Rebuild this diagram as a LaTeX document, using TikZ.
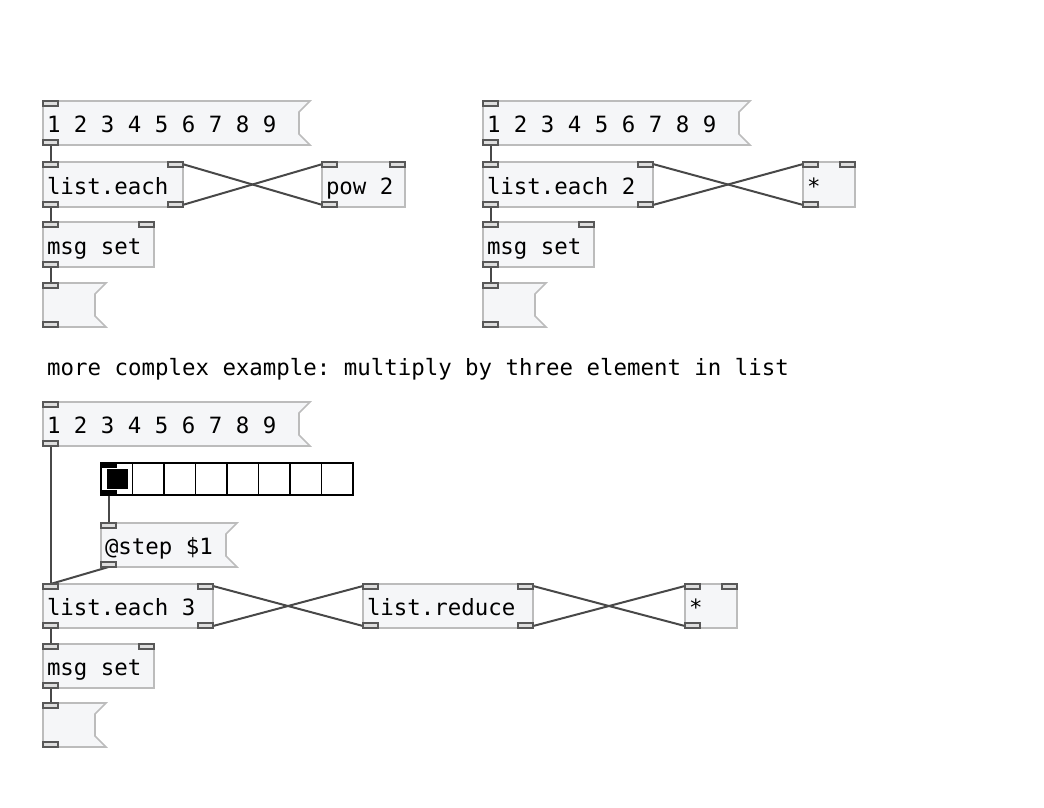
\documentclass[tikz,border=0pt]{standalone}
\usepackage{fontspec}
\setmonofont{DejaVu Sans Mono}
\usetikzlibrary{calc}
\pgfdeclarelayer{wires}
\pgfsetlayers{wires,main}
\protected\def\pdfont{\ttfamily\fontsize{22.4}{26}\selectfont}
\protected\def\pds{\kern13.49pt\relax}
\definecolor{boxfill}{RGB}{245,246,248}
\definecolor{boxline}{RGB}{188,188,188}
\definecolor{portline}{RGB}{88,88,88}
\definecolor{portfill}{RGB}{222,222,222}
\definecolor{wirecol}{RGB}{72,72,72}
\tikzset{
  pdtext/.style={font=\pdfont, text=black},
  obj/.style={pdtext, draw=boxline, fill=boxfill, line width=1.6pt, anchor=north west,
    inner xsep=4pt, inner ysep=0pt, align=left, text height=24pt, text depth=5pt, outer sep=0pt},
  msgframe/.style={pdtext, draw=none, anchor=north west,
    inner xsep=4pt, inner ysep=0pt, align=left, text height=24pt, text depth=5pt, outer sep=0pt},
  msgshape/.style={draw=boxline, fill=boxfill, line width=1.6pt, line join=miter},
  port/.style={draw=portline, fill=portfill, line width=1.3pt},
  bport/.style={fill=black},
  wire/.style={draw=wirecol, line width=2pt},
}
\newcommand\pdobj[6]{%
  \pgfmathsetmacro\pdtw{#4-8}%
  \node[obj, text width=\pdtw pt, minimum height=#5pt] (#1) at (#2,#3) {#6};%
}
\newcommand\pdmsg[6]{%
  \pgfmathsetmacro\pdtw{#4-8}%
  \path[msgshape] (#2,#3) -- ++(#4,0) -- ++(-11,11) -- ++(0,#5-22) -- ++(11,11) -- ++(-#4,0) -- cycle;%
  \node[msgframe, text width=\pdtw pt, minimum height=#5pt] (#1) at (#2,#3) {#6};%
}
\newcommand\inL[1]{\draw[port] (#1.north west) rectangle ++(15,5);}
\newcommand\inR[1]{\draw[port] ([xshift=-15pt]#1.north east) rectangle ++(15,5);}
\newcommand\outL[1]{\draw[port] (#1.south west) rectangle ++(15,-5);}
\newcommand\outR[1]{\draw[port] ([xshift=-15pt]#1.south east) rectangle ++(15,-5);}
\begin{document}
\begin{tikzpicture}[x=1pt,y=-1pt]
\useasboundingbox (0,0) rectangle (1044,807);
% ---------- top left
\pdmsg{ma}{43}{101}{267}{44}{1\pds2\pds3\pds4\pds5\pds6\pds7\pds8\pds9}
\pdobj{lea}{43}{162}{140}{45}{list.each}
\pdobj{pw}{322}{162}{83}{45}{pow\pds2}
\pdobj{msa}{43}{222}{111}{45}{msg\pds set}
\pdmsg{ea}{43}{283}{63}{44}{}
% ---------- top right
\pdmsg{mb}{483}{101}{267}{44}{1\pds2\pds3\pds4\pds5\pds6\pds7\pds8\pds9}
\pdobj{leb}{483}{162}{170}{45}{list.each\pds2}
\pdobj{stb}{803}{162}{52}{45}{*}
\pdobj{msb}{483}{222}{111}{45}{msg\pds set}
\pdmsg{eb}{483}{283}{63}{44}{}
% ---------- comment
\node[pdtext, anchor=base west, inner sep=0pt] (cmt) at (47,375) {more\pds complex\pds example:\pds multiply\pds by\pds three\pds element\pds in\pds list};
% ---------- bottom
\pdmsg{mc}{43}{402}{267}{44}{1\pds2\pds3\pds4\pds5\pds6\pds7\pds8\pds9}
\node[draw=black, line width=2pt, anchor=north west, minimum width=252pt, minimum height=31.5pt, inner sep=0pt, outer sep=0pt] (rad) at (101,463) {};
\foreach \i in {1,...,7} \draw[black, line width=1.6pt] ($(rad.north west)+(\i*31.5,0)$) -- ++(0,31.5);
\fill[black] ($(rad.north west)+(6,5.5)$) rectangle ++(21,20.5);
\fill[bport] (rad.north west) rectangle ++(16,4.5);
\fill[bport] (rad.south west) rectangle ++(16,-4.5);
\pdmsg{stp}{101}{523}{136}{44}{@step\pds\$1}
\pdobj{lec}{43}{584}{170}{44}{list.each\pds3}
\pdobj{lr}{363}{584}{170}{44}{list.reduce}
\pdobj{stc}{685}{584}{52}{44}{*}
\pdobj{msc}{43}{644}{111}{44}{msg\pds set}
\pdmsg{ec}{43}{703}{63}{44}{}
% ---------- ports
\inL{ma}\outL{ma}
\inL{lea}\inR{lea}\outL{lea}\outR{lea}
\inL{pw}\inR{pw}\outL{pw}
\inL{msa}\inR{msa}\outL{msa}
\inL{ea}\outL{ea}
\inL{mb}\outL{mb}
\inL{leb}\inR{leb}\outL{leb}\outR{leb}
\inL{stb}\inR{stb}\outL{stb}
\inL{msb}\inR{msb}\outL{msb}
\inL{eb}\outL{eb}
\inL{mc}\outL{mc}
\inL{stp}\outL{stp}
\inL{lec}\inR{lec}\outL{lec}\outR{lec}
\inL{lr}\inR{lr}\outL{lr}\outR{lr}
\inL{stc}\inR{stc}\outL{stc}
\inL{msc}\inR{msc}\outL{msc}
\inL{ec}\outL{ec}
% ---------- wires
\begin{pgfonlayer}{wires}
\draw[wire] ([xshift=7.5pt]ma.south west) -- ([xshift=7.5pt]lea.north west);
\draw[wire] ([xshift=-7.5pt]lea.south east) -- ([xshift=7.5pt]pw.north west);
\draw[wire] ([xshift=7.5pt]pw.south west) -- ([xshift=-7.5pt]lea.north east);
\draw[wire] ([xshift=7.5pt]lea.south west) -- ([xshift=7.5pt]msa.north west);
\draw[wire] ([xshift=7.5pt]msa.south west) -- ([xshift=7.5pt]ea.north west);
\draw[wire] ([xshift=7.5pt]mb.south west) -- ([xshift=7.5pt]leb.north west);
\draw[wire] ([xshift=-7.5pt]leb.south east) -- ([xshift=7.5pt]stb.north west);
\draw[wire] ([xshift=7.5pt]stb.south west) -- ([xshift=-7.5pt]leb.north east);
\draw[wire] ([xshift=7.5pt]leb.south west) -- ([xshift=7.5pt]msb.north west);
\draw[wire] ([xshift=7.5pt]msb.south west) -- ([xshift=7.5pt]eb.north west);
\draw[wire] ([xshift=7.5pt]mc.south west) -- ([xshift=7.5pt]lec.north west);
\draw[wire] ([xshift=7.5pt]rad.south west) -- ([xshift=7.5pt]stp.north west);
\draw[wire] ([xshift=7.5pt]stp.south west) -- ([xshift=7.5pt]lec.north west);
\draw[wire] ([xshift=-7.5pt]lec.south east) -- ([xshift=7.5pt]lr.north west);
\draw[wire] ([xshift=7.5pt]lr.south west) -- ([xshift=-7.5pt]lec.north east);
\draw[wire] ([xshift=-7.5pt]lr.south east) -- ([xshift=7.5pt]stc.north west);
\draw[wire] ([xshift=7.5pt]stc.south west) -- ([xshift=-7.5pt]lr.north east);
\draw[wire] ([xshift=7.5pt]lec.south west) -- ([xshift=7.5pt]msc.north west);
\draw[wire] ([xshift=7.5pt]msc.south west) -- ([xshift=7.5pt]ec.north west);
\end{pgfonlayer}
\end{tikzpicture}
\end{document}
